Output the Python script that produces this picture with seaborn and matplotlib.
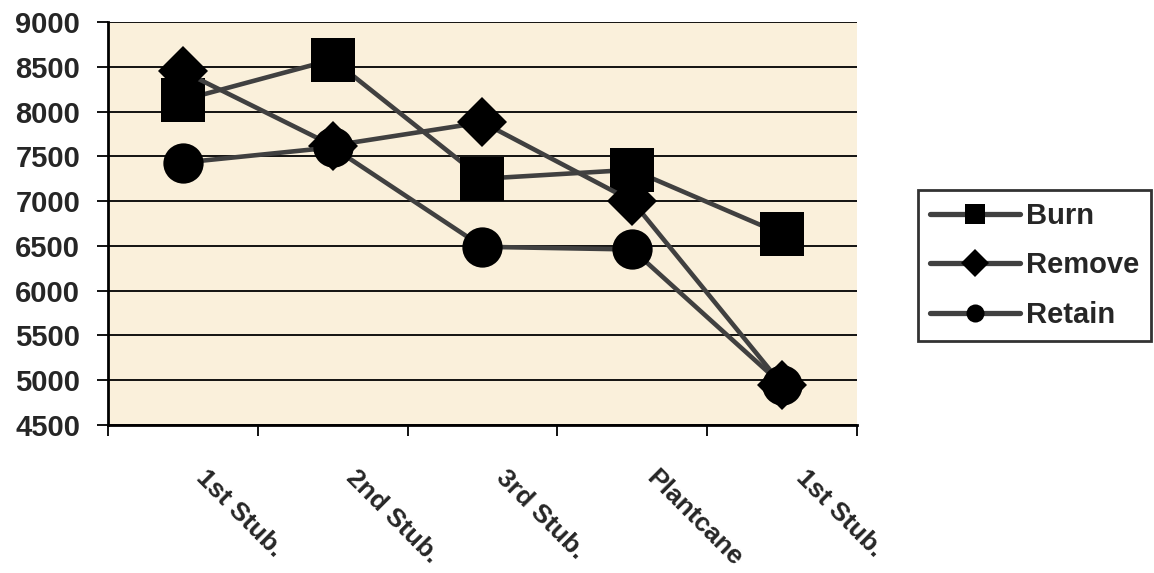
# Sugarcane yield by ratoon stage and trash treatment
import pandas as pd
import matplotlib.pyplot as plt
import matplotlib.transforms as mtransforms
import seaborn as sns

# Data
stages = ["1st Stub.", "2nd Stub.", "3rd Stub.", "Plantcane", "1st Stub."]
burn = [8130, 8580, 7250, 7350, 6630]
remove = [8450, 7620, 7880, 7000, 4950]
retain = [7430, 7600, 6490, 6460, 4950]
treatments = ["Burn", "Remove", "Retain"]
y_ticks = list(range(4500, 9001, 500))

# Long format for seaborn (x as position, since labels repeat)
rows = []
for name, vals in zip(treatments, [burn, remove, retain]):
    for i, v in enumerate(vals):
        rows.append({"pos": i, "yield": v, "treatment": name})
df = pd.DataFrame(rows)

sns.set_style("white")
plt.rcParams["font.family"] = ["Liberation Sans", "DejaVu Sans"]
plt.rcParams["font.weight"] = "bold"

fig = plt.figure(figsize=(11.54, 5.73), dpi=100)
ax = fig.add_axes([0.0936, 0.2583, 0.649, 0.7033])
ax.set_facecolor("#FAF0DB")

sns.lineplot(data=df, x="pos", y="yield", hue="treatment", style="treatment",
             palette=["#404040"] * 3, markers={"Burn": "s", "Remove": "D", "Retain": "o"},
             dashes=False, linewidth=3.3, markersize=27, markeredgewidth=0,
             ax=ax, zorder=3)

# marker sizes per series to match the reference
for line, ms in zip(ax.get_lines()[:3], [31, 25, 29]):
    line.set_markerfacecolor("black")
    line.set_markeredgecolor("black")
    line.set_markersize(ms)

ax.set_xlim(-0.5, len(stages) - 0.5)
ax.set_ylim(4500, 9000)
ax.set_yticks(y_ticks)
ax.set_yticklabels([str(t) for t in y_ticks], fontsize=21, fontweight="bold")
ax.yaxis.grid(True, color="black", linewidth=1.3)
ax.set_axisbelow(True)

# tick marks on the category boundaries, labels drawn slanted below each centre
ax.set_xticks([i - 0.5 for i in range(len(stages) + 1)])
ax.set_xticklabels([])
ax.tick_params(axis="x", length=8, width=1.3, color="black", direction="out", bottom=True)
ax.tick_params(axis="y", length=8, width=1.3, color="black", direction="out", left=True, pad=12)

offset = mtransforms.ScaledTranslation(26 / 100, -41 / 100, fig.dpi_scale_trans)
for i, lab in enumerate(stages):
    ax.text(i, 0, lab, transform=ax.get_xaxis_transform() + offset,
            fontsize=19, fontweight="bold", rotation=-45,
            ha="left", va="top", rotation_mode="anchor")

for side in ["top", "right"]:
    ax.spines[side].set_visible(False)
for side in ["left", "bottom"]:
    ax.spines[side].set_color("black")
    ax.spines[side].set_linewidth(2)

ax.set_xlabel("")
ax.set_ylabel("")

leg = ax.legend(loc="upper left", bbox_to_anchor=(0.7955, 0.668), bbox_transform=fig.transFigure,
                frameon=True, fancybox=False, edgecolor="black",
                handlelength=3.1, handletextpad=0.2, borderpad=0.4, labelspacing=0.74,
                borderaxespad=0, prop={"weight": "bold", "size": 21})
leg.get_frame().set_linewidth(2)
for h, ms in zip(leg.legend_handles, [15, 14, 13]):
    h.set_color("#404040")
    h.set_linewidth(3.8)
    h.set_markerfacecolor("black")
    h.set_markeredgecolor("black")
    h.set_markersize(ms)

fig.savefig("out.png", dpi=100)
